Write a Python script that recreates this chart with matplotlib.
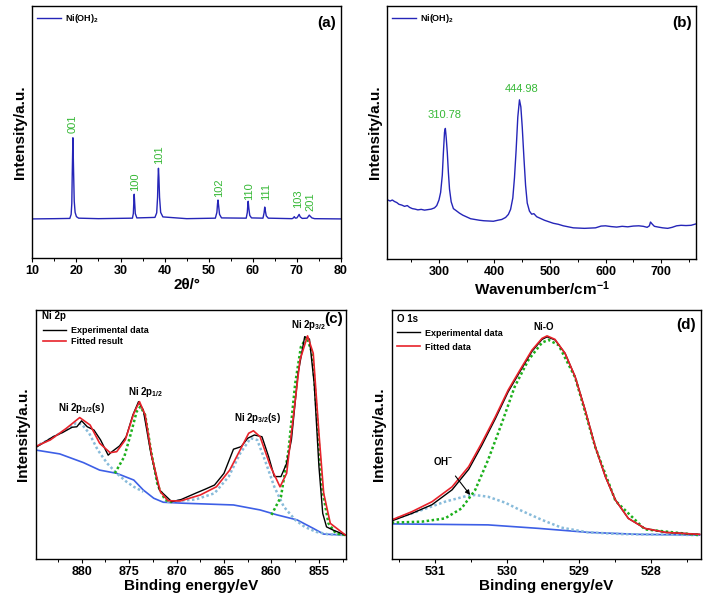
import matplotlib
matplotlib.use("Agg")
import matplotlib.pyplot as plt
from matplotlib.ticker import MultipleLocator

plt.rcParams['font.family'] = ['Liberation Sans', 'DejaVu Sans']
plt.rcParams['font.weight'] = 'bold'
plt.rcParams['axes.labelweight'] = 'bold'
plt.rcParams['mathtext.fontset'] = 'custom'
plt.rcParams['mathtext.rm'] = 'Liberation Sans:bold'
plt.rcParams['mathtext.it'] = 'Liberation Sans:bold'
plt.rcParams['mathtext.bf'] = 'Liberation Sans:bold'
plt.rcParams['mathtext.default'] = 'bf'

# (a) XRD pattern
xrd_2theta = [10, 15, 18.5, 18.8, 18.95, 19.05, 19.2, 19.35, 19.5, 19.7, 20.0, 20.5, 25,
              32.7, 32.9, 33.0, 33.1, 33.2, 33.35, 33.7, 37.8, 38.2, 38.4, 38.5, 38.6,
              38.7, 38.85, 39.1, 39.6, 45, 51.5, 51.85, 52.0, 52.1, 52.25, 52.45, 52.9,
              58.5, 58.75, 58.9, 58.95, 59.1, 59.3, 59.7, 62.3, 62.55, 62.7, 62.85, 63.05,
              63.5, 68.9, 69.2, 69.4, 69.65, 70.0, 70.3, 70.5, 70.75, 71.2, 72.3, 72.6,
              72.8, 73.0, 73.4, 74.0, 80]
xrd_int = [154, 155, 156, 172, 215, 330, 476, 345, 225, 180, 163, 157, 155,
           157, 175, 215, 252, 220, 175, 158, 160, 178, 240, 310, 355,
           320, 240, 180, 162, 155, 157, 180, 215, 229, 205, 172, 158,
           157, 180, 220, 224, 195, 168, 158, 157, 178, 201, 185, 166,
           157, 155, 158, 163, 157, 158, 166, 172, 162, 156, 157, 164,
           169, 165, 158, 155, 154]
hkl_labels = ['001', '100', '101', '102', '110', '111', '103', '201']
hkl_x = [19.16, 33.4, 38.7, 52.3, 59.1, 63.1, 70.2, 73.1]
hkl_y = [494, 266, 372, 242, 229, 229, 196, 186]

# (b) Raman spectrum
raman_x = [207, 212, 216, 220, 224, 228, 233, 238, 243, 247, 252, 257, 262, 268, 274,
           280, 286, 292, 296, 300, 303, 306, 308, 310, 311.5, 313, 315, 317, 319, 322,
           326, 331, 337, 343, 350, 357, 365, 373, 381, 390, 398, 406, 413, 420, 425,
           429, 433, 436, 439, 442, 445, 447.5, 450, 453, 456, 459, 463, 467, 471, 476,
           482, 490, 498, 506, 515, 524, 533, 542, 552, 562, 572, 582, 592, 600, 610,
           620, 630, 640, 650, 660, 668, 675, 679, 681, 684, 688, 695, 703, 712, 720,
           728, 736, 745, 754, 762]
raman_int = [233, 228, 232, 226, 222, 215, 212, 207, 210, 203, 198, 196, 193, 195, 192,
             194, 196, 201, 210, 232, 262, 330, 420, 500, 515, 480, 420, 340, 275, 225,
             198, 190, 180, 172, 165, 158, 155, 152, 150, 149, 148, 152, 155, 163, 175,
             195, 240, 320, 430, 560, 628, 600, 520, 400, 290, 220, 188, 176, 178, 166,
             160, 152, 146, 140, 136, 130, 126, 122, 121, 120, 121, 122, 129, 130, 127,
             125, 128, 126, 129, 130, 128, 124, 130, 145, 137, 128, 125, 122, 120, 124,
             130, 132, 131, 132, 137]
raman_peaks = ['310.78', '444.98']
raman_peak_x = [310.8, 449]
raman_peak_y = [570, 670]

# (c) Ni 2p XPS
ni_exp_x = [884.9, 883.0, 882.0, 881.0, 880.5, 880.0, 879.4, 878.7, 878.0, 877.2, 876.8,
            876.0, 875.3, 874.6, 874.0, 873.5, 872.7, 871.8, 870.5, 869.5, 868.0, 867.0,
            866.0, 865.0, 864.0, 863.2, 862.5, 861.8, 861.0, 860.3, 859.7, 859.0, 858.4,
            857.9, 857.2, 856.5, 856.0, 855.5, 855.0, 854.6, 854.2, 853.5, 852.2]
ni_exp = [446, 491, 508, 529, 531, 555, 531, 518, 478, 417, 431,
          454, 491, 578, 632, 598, 424, 277, 230, 239, 264, 280,
          297, 344, 441, 451, 485, 498, 491, 411, 331, 331, 384,
          478, 745, 893, 883, 705, 371, 183, 129, 116, 96]
ni_fit_x = [884.9, 883.3, 881.6, 880.2, 879.1, 878.1, 877.0, 876.3, 875.4, 874.5, 873.9,
            873.3, 872.6, 871.7, 870.9, 869.6, 867.5, 865.8, 864.4, 863.3, 862.4, 861.9,
            861.2, 860.1, 859.1, 858.4, 857.7, 857.0, 856.2, 855.6, 855.0, 854.5, 853.8,
            852.2]
ni_fit = [451, 478, 525, 568, 538, 465, 427, 431, 478, 585, 632,
          578, 411, 270, 234, 233, 257, 290, 357, 438, 505, 515,
          491, 371, 290, 344, 571, 799, 896, 826, 505, 264, 143,
          96]
ni_bg_x = [884.9, 882.3, 879.8, 878.1, 876.3, 874.5, 873.5, 872.4, 871.4, 869.3, 864.0,
           861.2, 859.4, 857.3, 855.6, 854.5, 852.2]
ni_bg = [438, 422, 387, 357, 344, 317, 277, 244, 228, 224, 217,
         197, 177, 157, 123, 100, 96]
ni_main_x = [[876.5, 875.5, 874.8, 874.2, 873.8, 873.3, 872.7, 872.0, 871.2, 870.5],
             [860.0, 859.0, 858.2, 857.5, 856.9, 856.3, 855.7, 855.2, 854.7, 854.0, 853.2, 852.2]]
ni_main = [[344, 411, 505, 592, 612, 578, 438, 297, 237, 228],
           [177, 250, 438, 705, 852, 890, 826, 571, 290, 143, 102, 96]]
ni_sat_x = [[884.9, 883.5, 882.0, 880.6, 880.0, 879.2, 878.3, 877.3, 876.3, 875.3, 874.5, 873.5],
            [871.0, 868.0, 866.0, 864.5, 863.3, 862.2, 861.5, 860.7, 859.7, 858.7, 857.5,
             856.5, 855.3, 854.0, 852.2]]
ni_sat = [[451, 478, 511, 545, 542, 505, 438, 384, 344, 311, 290, 270],
          [230, 239, 264, 331, 424, 485, 478, 398, 290, 210, 157, 129, 109, 99, 96]]

# (d) O 1s XPS
o_fit_x = [531.6, 531.32, 531.04, 530.76, 530.53, 530.35, 530.16, 529.98, 529.79, 529.65,
           529.51, 529.44, 529.33, 529.19, 529.05, 528.91, 528.77, 528.63, 528.49, 528.31,
           528.08, 527.8, 527.32]
o_fit = [157, 190, 230, 290, 371, 465, 571, 679, 772, 839,
         886, 896, 882, 826, 732, 598, 451, 331, 237, 163,
         123, 107, 99]
o_exp = [153, 183, 218, 278, 360, 455, 563, 672, 766, 834,
         882, 892, 880, 826, 732, 598, 451, 331, 237, 163,
         123, 107, 99]
o_bg_x = [531.6, 530.26, 529.56, 528.87, 528.17, 527.32]
o_bg = [141, 137, 123, 107, 99, 96]
o_nio_x = [531.6, 531.18, 530.86, 530.63, 530.44, 530.26, 530.07, 529.89, 529.70, 529.51,
           529.42, 529.28, 529.05, 528.77, 528.49, 528.08, 527.32]
o_nio = [146, 150, 163, 203, 277, 398, 545, 692, 799, 869,
         880, 859, 729, 449, 234, 119, 96]
o_oh_x = [531.6, 531.18, 530.86, 530.56, 530.44, 530.26, 530.02, 529.79, 529.51, 529.24,
          528.87, 528.4, 527.32]
o_oh = [157, 197, 230, 253, 257, 250, 226, 193, 157, 126, 107, 100, 96]

line_blue = '#2525b8'
label_green = '#35b835'
bg_blue = '#3d5fe6'
fit_red = '#e8232b'
dot_green = '#1cb01c'
dot_sky = '#88bbda'

fig = plt.figure(figsize=(7.09, 6.09), dpi=100)
ax_a = fig.add_axes([0.0456, 0.5768, 0.4354, 0.4138])
ax_b = fig.add_axes([0.5463, 0.5752, 0.4354, 0.4154])
ax_c = fig.add_axes([0.0508, 0.0821, 0.4372, 0.4089])
ax_d = fig.add_axes([0.5525, 0.0821, 0.4362, 0.4089])


def style(ax, major, minor):
    ax.set_yticks([])
    ax.xaxis.set_major_locator(MultipleLocator(major))
    ax.xaxis.set_minor_locator(MultipleLocator(minor))
    ax.tick_params(axis='x', which='major', direction='out', length=3, width=0.8,
                   labelsize=9, pad=2)
    ax.tick_params(axis='x', which='minor', direction='out', length=1.8, width=0.7)
    for s in ax.spines.values():
        s.set_linewidth(1.0)
    ax.set_ylabel('Intensity/a.u.', fontsize=11, labelpad=4)
    ax.set_ylim(0, 1000)


leg_kw = dict(loc='upper left', frameon=False, prop={'weight': 'bold', 'size': 6.5},
              handlelength=2.6, handletextpad=0.5, borderpad=0, borderaxespad=0)

# (a)
ax_a.plot(xrd_2theta, xrd_int, color=line_blue, lw=1.0, label='Ni(OH)$_2$')
for lab, x, y in zip(hkl_labels, hkl_x, hkl_y):
    ax_a.text(x, y, lab, rotation=90, ha='center', va='bottom', fontsize=8,
              fontweight='normal', color=label_green)
ax_a.set_xlim(10, 80)
style(ax_a, 10, 5)
ax_a.set_xlabel('2θ/°', fontsize=11, labelpad=1)
ax_a.legend(bbox_to_anchor=(0.016, 0.975), **leg_kw)
ax_a.text(0.954, 0.933, '(a)', transform=ax_a.transAxes, ha='center', va='center',
          fontsize=11)

# (b)
ax_b.plot(raman_x, raman_int, color=line_blue, lw=1.0, label='Ni(OH)$_2$')
for lab, x, y in zip(raman_peaks, raman_peak_x, raman_peak_y):
    ax_b.text(x, y, lab, ha='center', va='center', fontsize=8, fontweight='normal',
              color=label_green)
ax_b.set_xlim(207, 763)
style(ax_b, 100, 50)
ax_b.set_xlabel('Wavenumber/cm$^{-1}$', fontsize=11, labelpad=1)
ax_b.legend(bbox_to_anchor=(0.016, 0.975), **leg_kw)
ax_b.text(0.954, 0.93, '(b)', transform=ax_b.transAxes, ha='center', va='center',
          fontsize=11)

# (c)
ax_c.plot(ni_bg_x, ni_bg, color=bg_blue, lw=1.2)
for xs, ys in zip(ni_sat_x, ni_sat):
    ax_c.plot(xs, ys, color=dot_sky, lw=1.8, ls=(0, (1, 1)))
for xs, ys in zip(ni_main_x, ni_main):
    ax_c.plot(xs, ys, color=dot_green, lw=1.8, ls=(0, (1, 1)))
ax_c.plot(ni_exp_x, ni_exp, color='black', lw=1.0, label='Experimental data')
ax_c.plot(ni_fit_x, ni_fit, color=fit_red, lw=1.2, label='Fitted result')
ax_c.set_xlim(884.8, 852.15)
style(ax_c, 5, 2.5)
ax_c.set_xlabel('Binding energy/eV', fontsize=11, labelpad=1)
ax_c.text(0.019, 0.977, 'Ni 2p', transform=ax_c.transAxes, ha='left', va='center',
          fontsize=7)
ax_c.legend(bbox_to_anchor=(0.022, 0.935), labelspacing=0.2, **leg_kw)
ax_c.text(0.99, 0.965, '(c)', transform=ax_c.transAxes, ha='right', va='center',
          fontsize=11)
ax_c.text(880.0, 605, 'Ni 2p$_{1/2}$(s)', ha='center', va='center', fontsize=7)
ax_c.text(873.3, 672, 'Ni 2p$_{1/2}$', ha='center', va='center', fontsize=7)
ax_c.text(861.5, 565, 'Ni 2p$_{3/2}$(s)', ha='center', va='center', fontsize=7)
ax_c.text(856.1, 940, 'Ni 2p$_{3/2}$', ha='center', va='center', fontsize=7)

# (d)
ax_d.plot(o_bg_x, o_bg, color=bg_blue, lw=1.2)
ax_d.plot(o_oh_x, o_oh, color=dot_sky, lw=1.8, ls=(0, (1, 1)))
ax_d.plot(o_nio_x, o_nio, color=dot_green, lw=1.8, ls=(0, (1, 1)))
ax_d.plot(o_fit_x, o_exp, color='black', lw=1.0, label='Experimental data')
ax_d.plot(o_fit_x, o_fit, color=fit_red, lw=1.2, label='Fitted data')
ax_d.set_xlim(531.6, 527.3)
style(ax_d, 1, 0.5)
ax_d.set_xlabel('Binding energy/eV', fontsize=11, labelpad=1)
ax_d.text(0.018, 0.963, 'O 1s', transform=ax_d.transAxes, ha='left', va='center',
          fontsize=7)
ax_d.legend(bbox_to_anchor=(0.017, 0.925), labelspacing=0.55, **leg_kw)
ax_d.text(0.951, 0.94, '(d)', transform=ax_d.transAxes, ha='center', va='center',
          fontsize=11)
ax_d.text(529.49, 933, 'Ni-O', ha='center', va='center', fontsize=7)
ax_d.annotate('OH$^{-}$', xy=(530.51, 257), xytext=(530.88, 395), ha='center',
              va='center', fontsize=7,
              arrowprops=dict(arrowstyle='-|>', color='black', lw=0.8,
                              mutation_scale=7, shrinkA=6, shrinkB=0))

fig.savefig('out.png', dpi=100)
